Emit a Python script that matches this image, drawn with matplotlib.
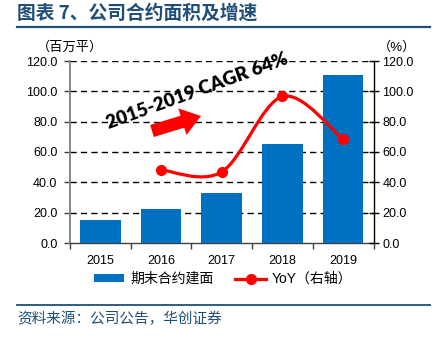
import matplotlib
matplotlib.use("Agg")
import matplotlib.pyplot as plt
from matplotlib.path import Path
from matplotlib.patches import PathPatch, Patch
from matplotlib.lines import Line2D
import numpy as np

plt.rcParams['font.family'] = ['Liberation Sans', 'Noto Sans CJK SC']

# Data
years = ['2015', '2016', '2017', '2018', '2019']
area = [15.0, 22.2, 33.0, 65.3, 110.9]          # 期末合约建面 (百万平)
yoy_years = ['2016', '2017', '2018', '2019']
yoy = [48.2, 46.9, 96.6, 68.4]                  # YoY (%)
left_ticks = [0, 20, 40, 60, 80, 100, 120]
cagr_label = '2015-2019 CAGR 64%'

BLUE = '#0070C0'
RED = '#FF0000'
NAVY = '#1F4E79'

fig = plt.figure(figsize=(4.37, 3.40), dpi=100)
ax = fig.add_axes([70 / 437, 1 - 243 / 340, (373.5 - 70) / 437, (243 - 61) / 340])
ax2 = ax.twinx()

x = np.arange(len(years))
ax.bar(x, area, width=0.67, color=BLUE, zorder=3)
ax.set_xlim(-0.5, len(years) - 0.5)
ax.set_ylim(0, 120)
ax2.set_ylim(0, 120)

# dashed grid
for v in left_ticks[1:]:
    ax.axhline(v, color='black', lw=1.0, ls=(0, (4.5, 3)), zorder=1)

# ticks
ax.set_yticks(left_ticks)
ax.set_yticklabels([f'{v:.1f}' for v in left_ticks], fontsize=9)
ax2.set_yticks(left_ticks)
ax2.set_yticklabels([f'{v:.1f}' for v in left_ticks], fontsize=9)
ax.tick_params(axis='y', direction='out', length=4, width=1, pad=5, colors='#404040', labelcolor='black')
ax2.tick_params(axis='y', direction='inout', length=7, width=1, pad=3, colors='black')
ax.set_xticks(x)
ax.set_xticklabels(years, fontsize=9)
ax.set_xticks(np.arange(-0.5, len(years)), minor=True)
ax.tick_params(axis='x', which='major', length=0, pad=9)
ax.tick_params(axis='x', which='minor', direction='out', length=4, width=1, colors='#404040')

for s in ['top']:
    ax.spines[s].set_visible(False)
    ax2.spines[s].set_visible(False)
ax2.spines['left'].set_visible(False)
ax2.spines['bottom'].set_visible(False)
ax.spines['right'].set_visible(False)
ax.spines['left'].set_color('#7F7F7F')
ax.spines['left'].set_linewidth(1.3)
ax.spines['bottom'].set_color('#404040')
ax.spines['bottom'].set_linewidth(1.0)
ax2.spines['right'].set_color('black')
ax2.spines['right'].set_linewidth(1.0)

# smoothed YoY curve (Catmull-Rom -> cubic Bezier)
px = np.array([years.index(y) for y in yoy_years], dtype=float)
py = np.array(yoy, dtype=float)
pts = np.column_stack([px, py])
n = len(pts)
verts = [tuple(pts[0])]
codes = [Path.MOVETO]
for i in range(n - 1):
    p0 = pts[max(i - 1, 0)]
    p1 = pts[i]
    p2 = pts[i + 1]
    p3 = pts[min(i + 2, n - 1)]
    c1 = p1 + (p2 - p0) / 6.0
    c2 = p2 - (p3 - p1) / 6.0
    verts += [tuple(c1), tuple(c2), tuple(p2)]
    codes += [Path.CURVE4] * 3
ax2.add_patch(PathPatch(Path(verts, codes), fill=False, edgecolor=RED, lw=2.3, zorder=4, capstyle='round'))
ax2.plot(px, py, 'o', color=RED, ms=7, zorder=5)

# legend
handles = [Patch(facecolor=BLUE, edgecolor='none'),
           Line2D([], [], color=RED, lw=2.3, marker='o', ms=7)]
fig.legend(handles, ['期末合约建面', 'YoY（右轴）'], loc='center',
           bbox_to_anchor=(223 / 437, 1 - 279 / 340), ncol=2, frameon=False,
           fontsize=10, handlelength=2.2, handleheight=0.5, handletextpad=0.4,
           columnspacing=1.6)

# axis unit labels
fig.text(70 / 437, 1 - 47 / 340, '（百万平）', ha='center', va='center', fontsize=9.5)
fig.text(397 / 437, 1 - 47 / 340, '（%）', ha='center', va='center', fontsize=9.5)

# CAGR annotation with arrow
fig.text(197 / 437, 1 - 91 / 340, cagr_label, ha='center', va='center', rotation=20,
         rotation_mode='anchor', fontsize=13.5, fontweight='heavy', family='Lato', color='black')
fig.add_artist(plt.Annotation('', xy=(201, 340 - 116), xytext=(152, 340 - 131),
                              xycoords='figure pixels', textcoords='figure pixels',
                              arrowprops=dict(arrowstyle='simple,head_length=14,head_width=20,tail_width=9',
                                              mutation_scale=1, color=RED, shrinkA=0, shrinkB=0, lw=0)))

# title, rules and source
fig.text(17 / 437, 1 - 13 / 340, '图表 7、公司合约面积及增速', ha='left', va='center',
         fontsize=13.5, fontweight='bold', color=NAVY, family=['Noto Sans CJK SC'])
fig.add_artist(Line2D([17 / 437, 430 / 437], [1 - 27 / 340, 1 - 27 / 340], color=NAVY, lw=1.6))
fig.add_artist(Line2D([17 / 437, 430 / 437], [1 - 305 / 340, 1 - 305 / 340], color=NAVY, lw=1.3))
fig.text(17 / 437, 1 - 319 / 340, '资料来源：公司公告，华创证券', ha='left', va='center',
         fontsize=10.5, color=NAVY, family=['Noto Sans CJK SC'])

fig.savefig('out.png', dpi=100)
